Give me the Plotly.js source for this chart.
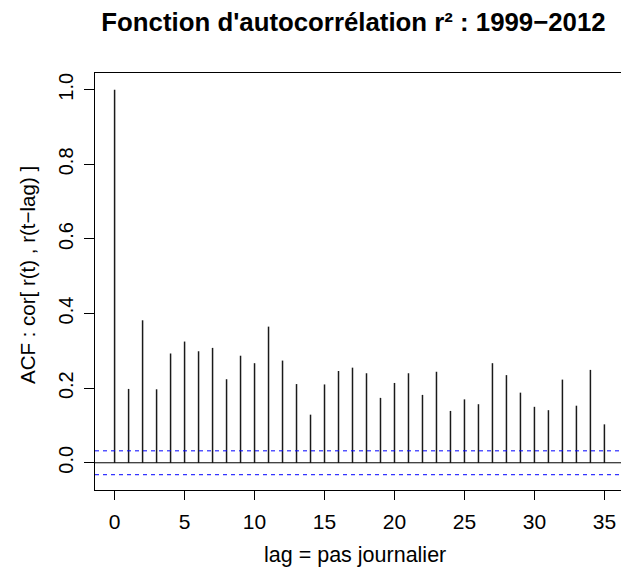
<!DOCTYPE html>
<html><head><meta charset="utf-8">
<script src="https://cdn.plot.ly/plotly-3.0.1.min.js"></script>
<style>html,body{margin:0;padding:0;overflow:hidden;background:#fff}#chart{width:624px;height:571px}</style>
</head><body><div id="chart"></div>
<script>
const lags = [0,1,2,3,4,5,6,7,8,9,10,11,12,13,14,15,16,17,18,19,20,21,22,23,24,25,26,27,28,29,30,31,32,33,34,35];
const acf = [1.0,0.198,0.382,0.197,0.293,0.325,0.299,0.308,0.224,0.287,0.267,0.365,0.274,0.211,0.129,0.210,0.246,0.255,
             0.240,0.174,0.214,0.240,0.182,0.244,0.139,0.170,0.157,0.267,0.235,0.188,0.150,0.141,0.223,0.153,0.249,0.103];
const clim = [0.032, -0.032];
const xTicks = [0,5,10,15,20,25,30,35];
const yTicks = [0,0.2,0.4,0.6,0.8,1.0];
const yTickText = ['0.0','0.2','0.4','0.6','0.8','1.0'];
const titleText = "Fonction d'autocorrélation r² : 1999−2012";
const xTitle = "lag = pas journalier";
const yTitle = "ACF : cor[ r(t) , r(t−lag) ]";

const bx = [], by = [];
lags.forEach((l, i) => { bx.push(l, l, null); by.push(0, acf[i], null); });

const font = 'Liberation Sans, Arial, sans-serif';
const shapes = [
  {type:'line', xref:'paper', x0:0, x1:1, yref:'y', y0:0, y1:0, line:{color:'#000', width:1}}
].concat(clim.map(c => ({type:'line', xref:'paper', x0:0, x1:1, yref:'y', y0:c, y1:c,
  line:{color:'#0000ff', width:1, dash:'4px,4px'}})));

// plot area: left 95, width 529, top 73, height 417
const PL = 95, PW = 529, PT = 73, PH = 417;
const annotations = [
  {text:xTitle, xref:'paper', yref:'paper', x:(355-PL)/PW, y:(PT+PH-555)/PH,
   xanchor:'center', yanchor:'middle', showarrow:false, font:{size:21.5}},
  {text:yTitle, xref:'paper', yref:'paper', x:(27-PL)/PW, y:(PT+PH-275)/PH, textangle:-90,
   xanchor:'center', yanchor:'middle', showarrow:false, font:{size:20.5}}
];

Plotly.newPlot('chart', [{
  x: bx, y: by, type:'scatter', mode:'lines',
  line:{color:'#1a1a1a', width:1.5}, hoverinfo:'skip', showlegend:false
}], {
  width:624, height:571,
  margin:{l:PL, r:0, t:PT, b:571-PT-PH, pad:0},
  paper_bgcolor:'#fff', plot_bgcolor:'#fff',
  font:{family:font, color:'#000', size:20},
  title:{text:titleText, font:{family:font, size:25.8, weight:'bold', color:'#000'},
         xref:'paper', x:(353.5-PL)/PW, xanchor:'center', yref:'container', y:1-22/571, yanchor:'middle'},
  xaxis:{range:[-1.4,36.4], tickmode:'array', tickvals:xTicks, ticktext:xTicks.map(String),
         ticks:'outside', ticklen:9, tickwidth:1, tickcolor:'#000',
         showline:true, mirror:true, linecolor:'#000', linewidth:1,
         showgrid:false, zeroline:false, tickfont:{size:21}, ticklabelstandoff:4},
  yaxis:{range:[-0.073,1.045], tickmode:'array', tickvals:yTicks, ticktext:yTickText, tickangle:-90,
         ticks:'outside', ticklen:10, tickwidth:1, tickcolor:'#000',
         showline:true, mirror:true, linecolor:'#000', linewidth:1,
         showgrid:false, zeroline:false, tickfont:{size:20}, ticklabelstandoff:3},
  shapes: shapes,
  annotations: annotations
}, {displayModeBar:false, staticPlot:true});
</script></body></html>
